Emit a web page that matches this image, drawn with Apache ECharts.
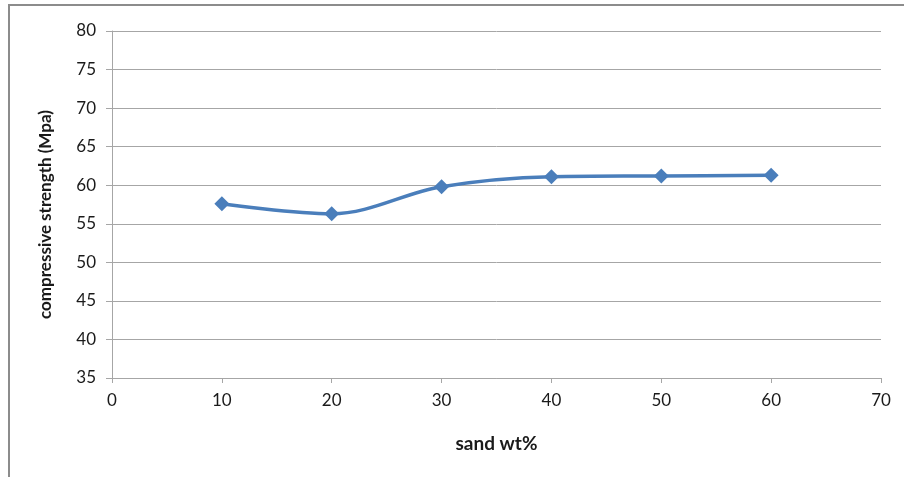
<!DOCTYPE html>
<html>
<head>
<meta charset="utf-8">
<script src="https://cdn.jsdelivr.net/npm/echarts@6/dist/echarts.min.js"></script>
<style>
  html, body { margin: 0; padding: 0; background: #fff; }
  #chart { width: 904px; height: 477px; }
</style>
</head>
<body>
<div id="chart"></div>
<script>
// Sand content (wt%) and measured compressive strength (MPa)
const sandWt = [10, 20, 30, 40, 50, 60];
const strength = [57.6, 56.3, 59.8, 61.1, 61.2, 61.3];

const xTitle = 'sand wt%';
const yTitle = 'compressive strength (Mpa)';

const fontFamily = 'Lato, "Open Sans", sans-serif';
const gridColor = '#a6a6a6';

const chart = echarts.init(document.getElementById('chart'), null, { renderer: 'canvas' });

chart.setOption({
  animation: false,
  backgroundColor: '#fff',
  graphic: [{
    type: 'rect',
    shape: { x: 9, y: 5, width: 1000, height: 600 },
    style: { fill: 'none', stroke: '#8c8c8c', lineWidth: 2 },
    silent: true
  }],
  grid: { left: 112, right: 23, top: 31, bottom: 99 },
  xAxis: {
    type: 'value',
    min: 0, max: 70, interval: 10,
    name: xTitle,
    nameLocation: 'middle',
    nameGap: 56,
    nameTextStyle: { fontFamily, fontSize: 19, fontWeight: 'bold', color: '#1a1a1a' },
    axisLine: { show: true, lineStyle: { color: gridColor, width: 1 } },
    axisTick: { show: true, length: 5, lineStyle: { color: gridColor } },
    axisLabel: { fontFamily, fontSize: 17, color: '#1a1a1a', margin: 14 },
    splitLine: { show: false }
  },
  yAxis: {
    type: 'value',
    min: 35, max: 80, interval: 5,
    name: yTitle,
    nameLocation: 'middle',
    nameGap: 58,
    nameTextStyle: { fontFamily, fontSize: 17, fontWeight: 'bold', color: '#1a1a1a', padding: [0, 20, 0, 0] },
    axisLine: { show: true, lineStyle: { color: gridColor, width: 1 } },
    axisTick: { show: true, length: 6, lineStyle: { color: gridColor } },
    axisLabel: { fontFamily, fontSize: 17, color: '#1a1a1a', margin: 16 },
    splitLine: { show: true, lineStyle: { color: gridColor, width: 1 } }
  },
  series: [{
    type: 'line',
    data: sandWt.map((x, i) => [x, strength[i]]),
    smooth: 0.35,
    symbol: 'diamond',
    symbolSize: 15,
    lineStyle: { color: '#4a7ebb', width: 3.5 },
    itemStyle: { color: '#4a7ebb' }
  }]
});
</script>
</body>
</html>
